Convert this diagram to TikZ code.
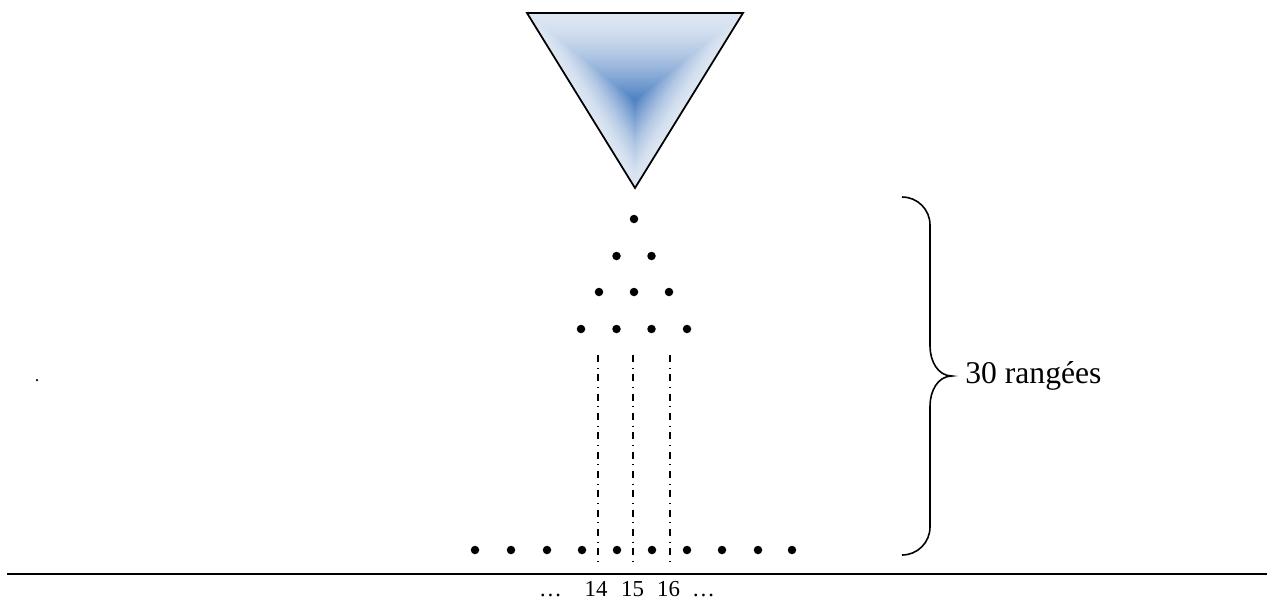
\documentclass[tikz,border=0pt]{standalone}
\usepackage{fontspec}
\setmainfont{Liberation Serif}
\usepackage{tikz}
\usetikzlibrary{calc}

\definecolor{edgeblue}{RGB}{220,230,242}
\definecolor{coreblue}{RGB}{74,126,194}

\begin{document}
\begin{tikzpicture}[
  bead/.style={circle,fill=black,inner sep=0pt,minimum size=0.17cm},
  speck/.style={circle,fill=black,inner sep=0pt,minimum size=0.05cm},
  funnel/.style={draw=black,line width=1pt,line join=miter},
  binline/.style={line width=0.8pt,dash pattern=on 4pt off 3.2pt on 0.6pt off 3.2pt},
  floor/.style={line width=1.2pt},
  bracket/.style={line width=0.9pt},
  binlabel/.style={font=\fontsize{13}{15}\selectfont,inner sep=0pt,anchor=base},
  rowlabel/.style={font=\fontsize{18}{22}\selectfont,inner sep=0pt,anchor=west}]
\useasboundingbox (0,0) rectangle (25.34,-12);
% funnel
\coordinate (tl) at (10.54,-0.26);
\coordinate (tr) at (14.86,-0.26);
\coordinate (tb) at (12.70,-3.76);
\coordinate (tc) at (12.70,-2.00);
\foreach \i in {0,...,59}{
  \pgfmathsetmacro{\s}{1-\i/60}
  \pgfmathtruncatemacro{\p}{100*(1-\s)^1.6}
  \fill[coreblue!\p!edgeblue] ($(tc)!\s!(tl)$) -- ($(tc)!\s!(tr)$) -- ($(tc)!\s!(tb)$) -- cycle;
}
\draw[funnel] (tl) -- (tr) -- (tb) -- cycle;
% pegs
\node[bead] (r1) at (12.68,-4.38) {};
\node[bead] (r2a) at (12.33,-5.12) {};
\node[bead] (r2b) at (13.03,-5.12) {};
\node[bead] (r3a) at (11.98,-5.84) {};
\node[bead] (r3b) at (12.68,-5.84) {};
\node[bead] (r3c) at (13.38,-5.84) {};
\node[bead] (r4a) at (11.62,-6.58) {};
\node[bead] (r4b) at (12.33,-6.58) {};
\node[bead] (r4c) at (13.03,-6.58) {};
\node[bead] (r4d) at (13.74,-6.58) {};
\node[bead] (b1) at (9.50,-11.00) {};
\node[bead] (b2) at (10.22,-11.00) {};
\node[bead] (b3) at (10.94,-11.00) {};
\node[bead] (b4) at (11.64,-11.00) {};
\node[bead] (b5) at (12.34,-11.00) {};
\node[bead] (b6) at (13.04,-11.00) {};
\node[bead] (b7) at (13.74,-11.00) {};
\node[bead] (b8) at (14.44,-11.00) {};
\node[bead] (b9) at (15.16,-11.00) {};
\node[bead] (b10) at (15.84,-11.00) {};
\node[speck] (pt) at (0.74,-7.60) {};
% bins
\coordinate (c14t) at (11.96,-7.10);
\coordinate (c14b) at (11.96,-11.34);
\coordinate (c15t) at (12.66,-7.10);
\coordinate (c15b) at (12.66,-11.34);
\coordinate (c16t) at (13.40,-7.10);
\coordinate (c16b) at (13.40,-11.34);
\draw[binline] (c14t) -- (c14b);
\draw[binline] (c15t) -- (c15b);
\draw[binline] (c16t) -- (c16b);
\coordinate (gl) at (0.14,-11.48);
\coordinate (gr) at (25.34,-11.48);
\draw[floor] (gl) -- (gr);
\node[binlabel] (dl) at (11.01,-11.93) {\dots};
\node[binlabel] (n14) at (11.92,-11.93) {14};
\node[binlabel] (n15) at (12.65,-11.93) {15};
\node[binlabel] (n16) at (13.37,-11.93) {16};
\node[binlabel] (dr) at (14.07,-11.93) {\dots};
% brace
\coordinate (bt) at (18.04,-3.94);
\coordinate (bm) at (19.04,-7.52);
\coordinate (bb) at (18.04,-11.10);
\draw[bracket] (bt) to[out=0,in=90] (18.60,-4.50) -- (18.60,-6.92)
  to[out=-90,in=180] (bm) to[out=180,in=90] (18.60,-8.12) -- (18.60,-10.54)
  to[out=-90,in=0] (bb);
\node[rowlabel] (rows) at (19.30,-7.52) {30 rangées};
\end{tikzpicture}
\end{document}
